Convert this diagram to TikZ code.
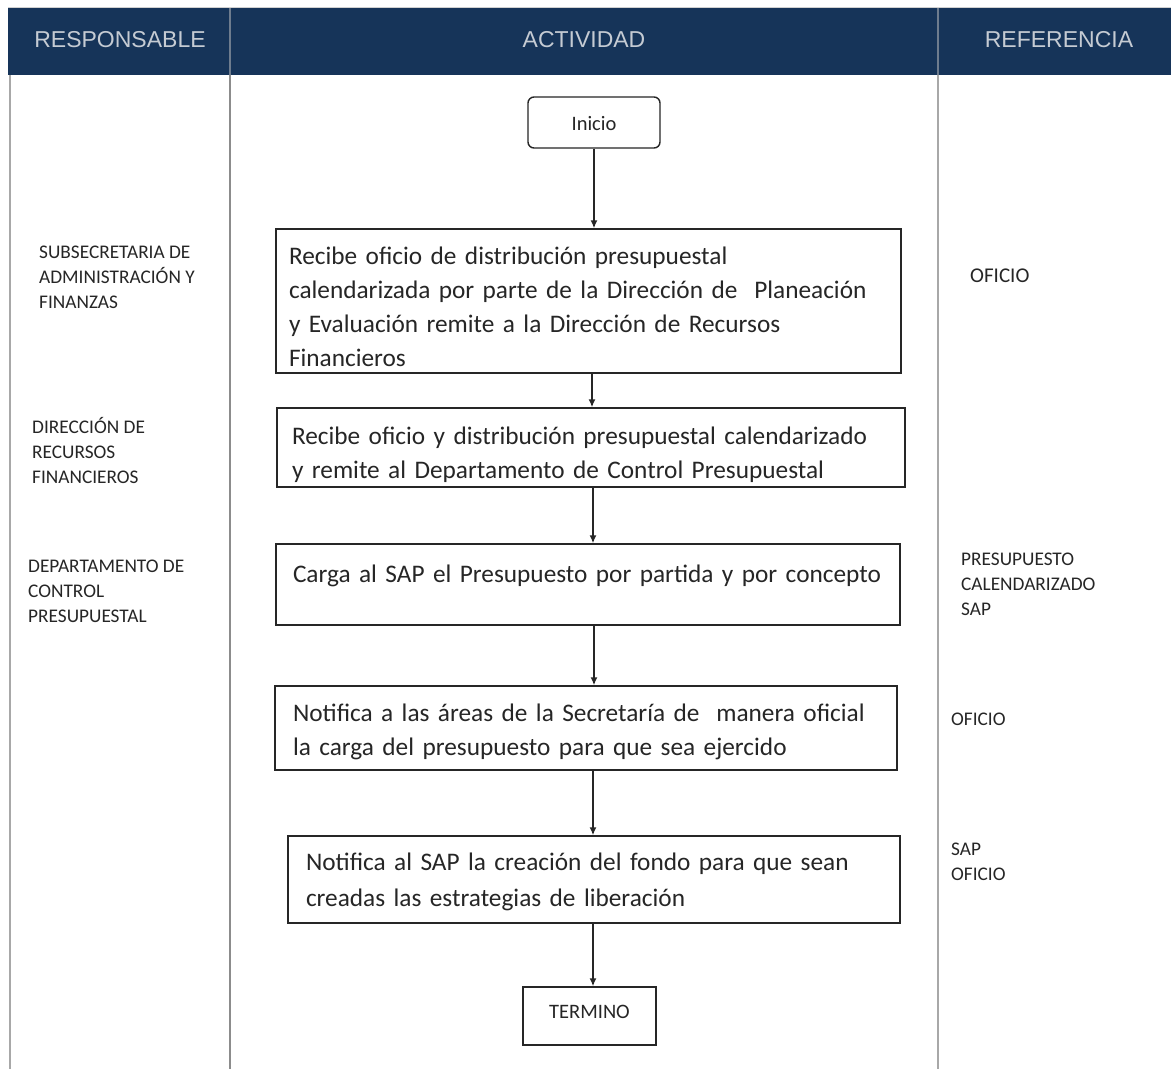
\documentclass[tikz,border=0pt]{standalone}
\usepackage{fontspec}
\setmainfont{Carlito}
\newfontfamily\hdrfont{Liberation Sans}
\usetikzlibrary{arrows.meta}
\definecolor{navy}{HTML}{163459}
\definecolor{hdrtext}{HTML}{C5CBD3}
\definecolor{hdrline}{HTML}{6E7C8E}
\definecolor{rulegray}{HTML}{A8A8A8}
\definecolor{rulegraydark}{HTML}{8C8C8C}
\definecolor{ink}{HTML}{262626}
% invisible strut that sets the height of a box's first line
\newcommand{\firstline}[1]{\rule{0pt}{#1}}
\begin{document}
\begin{tikzpicture}[x=1pt,y=-1pt,
  hdr/.style={font=\hdrfont\fontsize{23}{26}\selectfont, text=hdrtext, inner sep=0pt},
  stepbox/.style={draw=ink, line width=1.4pt, align=left, text=ink,
    font=\fontsize{25.3}{34}\selectfont, inner ysep=0pt},
  endbox/.style={draw=ink, line width=1.4pt, text=ink, font=\fontsize{20.5}{24}\selectfont},
  who/.style={anchor=north west, inner sep=0pt, align=left, text=ink,
    font=\fontsize{19.3}{25}\selectfont},
  ref/.style={anchor=north west, inner sep=0pt, align=left, text=ink,
    font=\fontsize{19.3}{25}\selectfont},
  flow/.style={draw=ink, line width=1.5pt, -{Latex[length=8pt,width=7pt]}}]
\useasboundingbox (0,0) rectangle (1171,1069);
\fill[white] (0,0) rectangle (1171,1069);

% header band
\draw[line width=1pt, black!18] (8,7) -- (1171,7);
\fill[navy] (8,8) rectangle (1171,75);
\draw[hdrline, line width=1.5pt] (230,8) -- (230,75);
\draw[hdrline, line width=1.5pt] (938,8) -- (938,75);
\node[hdr] (h1) at (120,40) {RESPONSABLE};
\node[hdr] (h2) at (584,40) {ACTIVIDAD};
\node[hdr] (h3) at (1059,40) {REFERENCIA};

% column rules
\draw[rulegray, line width=2.5pt] (10,75) -- (10,1069);
\draw[rulegraydark, line width=2pt] (230,75) -- (230,1069);
\draw[rulegray, line width=2.5pt] (938,75) -- (938,1069);

% responsible units
\node[who] (r1) at (39,245.5) {SUBSECRETARIA DE\\ADMINISTRACIÓN Y\\FINANZAS};
\node[who] (r2) at (32,417.5) {DIRECCIÓN DE\\RECURSOS\\FINANCIEROS};
\node[who] (r3) at (28,559.5) {DEPARTAMENTO DE\\CONTROL\\PRESUPUESTAL};

% references
\node[ref, font=\fontsize{21}{25}\selectfont] (f1) at (970,268.5) {OFICIO};
\node[ref] (f2) at (961,552.5) {PRESUPUESTO\\CALENDARIZADO\\SAP};
\node[ref] (f3) at (951,712.5) {OFICIO};
\node[ref] (f4) at (951,842.5) {SAP\\OFICIO};

% flow
\node[endbox, rounded corners=6pt, minimum width=132, minimum height=51] (ini) at (594,122.5) {\firstline{17pt}Inicio};
\node[stepbox, minimum width=625, minimum height=144, text width=599, inner xsep=13] (b1) at (588.5,301)
  {\firstline{30pt}Recibe oficio de distribución presupuestal\\calendarizada por parte de la Dirección de~ Planeación\\y Evaluación remite a la Dirección de Recursos\\Financieros};
\node[stepbox, minimum width=628, minimum height=79, text width=598, inner xsep=15] (b2) at (591,447.5)
  {\firstline{32pt}Recibe oficio y distribución presupuestal calendarizado\\y remite al Departamento de Control Presupuestal};
\node[stepbox, minimum width=624, minimum height=81, text width=590, inner xsep=17, text depth=22pt] (b3) at (588,584.5)
  {Carga al SAP el Presupuesto por partida y por concepto};
\node[stepbox, minimum width=622, minimum height=84, text width=586, inner xsep=18] (b4) at (586,728)
  {\firstline{26pt}Notifica a las áreas de la Secretaría de~ manera oficial\\la carga del presupuesto para que sea ejercido};
\node[stepbox, minimum width=612, minimum height=87, text width=576, inner xsep=18,
  font=\fontsize{25.3}{36}\selectfont] (b5) at (594,879.5)
  {\firstline{22pt}Notifica al SAP la creación del fondo para que sean\\creadas las estrategias de liberación};
\node[endbox, minimum width=133, minimum height=58, text depth=9pt] (fin) at (589.5,1016) {TERMINO};

\draw[flow] (ini.south) -- (ini.south |- b1.north);
\draw[flow] ([xshift=3.5pt]b1.south) -- ([xshift=3.5pt]b1.south |- b2.north);
\draw[flow] ([xshift=2pt]b2.south) -- ([xshift=2pt]b2.south |- b3.north);
\draw[flow] ([xshift=6pt]b3.south) -- ([xshift=6pt]b3.south |- b4.north);
\draw[flow] ([xshift=7pt]b4.south) -- ([xshift=7pt]b4.south |- b5.north);
\draw[flow] ([xshift=-1pt]b5.south) -- ([xshift=-1pt]b5.south |- fin.north);
\end{tikzpicture}
\end{document}
